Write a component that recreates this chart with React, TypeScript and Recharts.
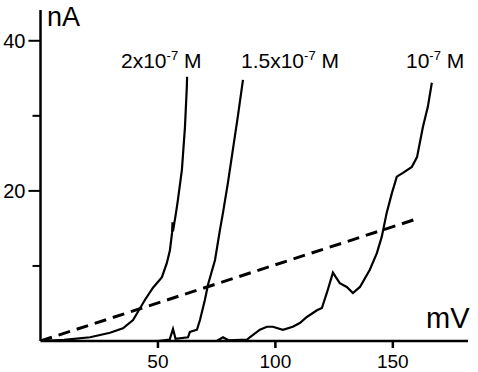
import { LineChart, Line, XAxis, YAxis, Customized } from "recharts"

// mV / nA
const dashMv = [0, 161.5]
const dashNa = [0, 16.4]

const c1Mv = [0, 10, 21.1, 29.6, 35.1, 39.4, 41.5, 44.5, 47.9, 51.7, 53.8, 55.1, 56, 56.2, 56.4, 57.7, 58.5, 60.2, 61.5, 62.3, 62.4]
const c1Na = [0, 0.15, 0.5, 1.1, 1.7, 2.8, 3.9, 5.5, 7.1, 8.5, 10.4, 12.1, 14.4, 15.8, 14.6, 17.1, 18.8, 22.8, 28.5, 33.9, 35.2]

const c2Mv = [0, 50, 55, 56.4, 57.5, 62.8, 63.6, 66.6, 67.9, 70, 71.3, 74.3, 76.4, 77.7, 79.8, 81.9, 84, 86.2]
const c2Na = [0, 0, 0.2, 1.6, 0.3, 0.5, 1.2, 1.5, 2.8, 5.5, 7.5, 10.8, 14.8, 17.1, 21.1, 25.5, 29.9, 34.8]

const c3Mv = [0, 75, 77.7, 80, 88, 89.1, 93.4, 96.4, 98.9, 103.2, 107.4, 110.4, 113.4, 117.7, 119.8, 121.9, 124.5, 127.4, 130.4, 133, 136, 140.2, 143.2, 145.3, 147.4, 149.6, 151.7, 154.3, 158.1, 160.3, 162.8, 164.9, 166.6]
const c3Na = [0, 0, 0.5, 0.1, 0.2, 0.5, 1.5, 1.9, 1.9, 1.5, 1.9, 2.4, 3.2, 4.1, 4.4, 6.4, 9.1, 7.7, 7.2, 6.4, 7.2, 9.5, 11.7, 13.9, 17.1, 19.7, 21.9, 22.4, 23.2, 24.5, 28.5, 31.2, 34.4]

const xTicks = [50, 100, 150]
const yTicks = [10, 20, 30, 40]
const yLabelled = [20, 40]

const FONT = "'Liberation Sans', Arial, sans-serif"

const pts = (xs: number[], ys: number[]) => xs.map((x, i) => ({ x, y: ys[i] }))

const XTick = (props: any) => {
    const { x, y, payload } = props
    return (
        <g>
            <line x1={x} y1={y} x2={x} y2={y + 7} stroke="#000" strokeWidth={2.5} />
            <text x={x} y={y + 27} textAnchor="middle" fontSize={19} fontFamily={FONT} fill="#000">
                {payload.value}
            </text>
        </g>
    )
}

const YTick = (props: any) => {
    const { x, y, payload } = props
    const big = yLabelled.includes(payload.value)
    return (
        <g>
            <line x1={x} y1={y} x2={x - (big ? 12 : 8)} y2={y} stroke="#000" strokeWidth={2} />
            {big && (
                <text x={x - 15} y={y + 7} textAnchor="end" fontSize={20} fontFamily={FONT} fill="#000">
                    {payload.value}
                </text>
            )}
        </g>
    )
}

const Conc = ({ x, pre }: { x: number; pre: string }) => (
    <text x={x} y={68} fontSize={21} fontFamily={FONT} fill="#000">
        {pre}
        <tspan fontSize={13} dy={-8}>-7</tspan>
        <tspan dy={8}> M</tspan>
    </text>
)

const Labels = () => (
    <g>
        <text x={47} y={26} fontSize={27} fontFamily={FONT} fill="#000">nA</text>
        <text x={426} y={328} fontSize={29} fontFamily={FONT} fill="#000">mV</text>
        <Conc x={121} pre="2x10" />
        <Conc x={241} pre="1.5x10" />
        <Conc x={406} pre="10" />
    </g>
)

export default function App() {
    return (
        <div style={{ position: "absolute", left: 0, top: 0, width: 478, height: 372, background: "#fff" }}>
            <LineChart width={478} height={372} margin={{ top: 10, right: 10, left: 0, bottom: 0 }}>
                <XAxis
                    type="number"
                    dataKey="x"
                    domain={[0, 182]}
                    ticks={xTicks}
                    height={31}
                    tickSize={0}
                    tickMargin={0}
                    tickLine={false}
                    tick={<XTick />}
                    axisLine={{ stroke: "#000", strokeWidth: 2.5 }}
                    allowDataOverflow
                />
                <YAxis
                    type="number"
                    domain={[0, 44.1]}
                    ticks={yTicks}
                    width={40.5}
                    tickSize={0}
                    tickMargin={0}
                    tickLine={false}
                    tick={<YTick />}
                    axisLine={{ stroke: "#000", strokeWidth: 2.5 }}
                    allowDataOverflow
                />
                <Line data={pts(dashMv, dashNa)} dataKey="y" type="linear" stroke="#000" strokeWidth={3} strokeDasharray="12 7" dot={false} isAnimationActive={false} />
                <Line data={pts(c1Mv, c1Na)} dataKey="y" type="linear" stroke="#000" strokeWidth={2.2} dot={false} isAnimationActive={false} />
                <Line data={pts(c2Mv, c2Na)} dataKey="y" type="linear" stroke="#000" strokeWidth={2.2} dot={false} isAnimationActive={false} />
                <Line data={pts(c3Mv, c3Na)} dataKey="y" type="linear" stroke="#000" strokeWidth={2.2} dot={false} isAnimationActive={false} />
                <Customized component={<Labels />} />
            </LineChart>
        </div>
    )
}
